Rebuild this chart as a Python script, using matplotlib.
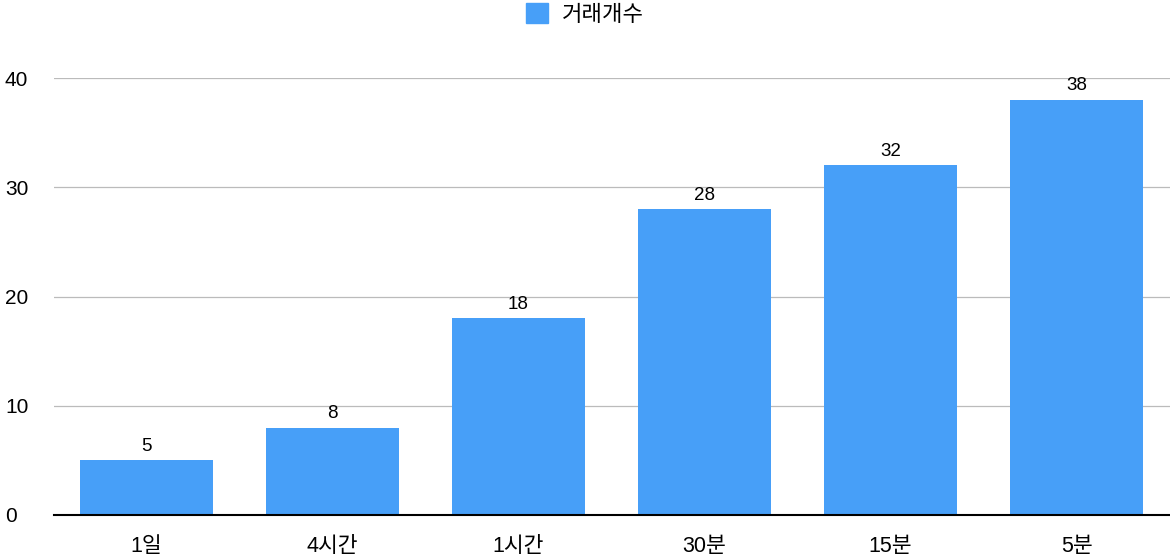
import matplotlib
matplotlib.use("Agg")
import matplotlib.pyplot as plt
from matplotlib.patches import Patch

plt.rcParams['font.family'] = ['Liberation Sans', 'Noto Sans CJK KR']

categories = ['1일', '4시간', '1시간', '30분', '15분', '5분']
values = [5, 8, 18, 28, 32, 38]
series_name = '거래개수'
yticks = [0, 10, 20, 30, 40]

color = '#479FF8'

fig = plt.figure(figsize=(11.7, 5.58), dpi=100)
W, H = 1170, 558
left, right, top, bottom = 53.5, 1169.5, 78, 515
ax = fig.add_axes([left / W, 1 - bottom / H, (right - left) / W, (bottom - top) / H])

x = list(range(len(categories)))
ax.bar(x, values, width=0.715, color=color, zorder=3)
ax.set_xlim(-0.5, len(categories) - 0.5)
ax.set_ylim(0, 40)
ax.set_yticks(yticks)
ax.set_xticks(x)
ax.set_xticklabels(categories, fontsize=15.5)
ax.tick_params(axis='y', labelsize=15, length=0, pad=35)
ax.tick_params(axis='x', length=0, pad=15)
for lbl in ax.get_yticklabels():
    lbl.set_horizontalalignment('left')

ax.grid(axis='y', color='#BBBBBB', linewidth=0.9, zorder=0)
ax.set_axisbelow(True)
for s in ['top', 'right', 'left']:
    ax.spines[s].set_visible(False)
ax.spines['bottom'].set_color('black')
ax.spines['bottom'].set_linewidth(1.5)
ax.spines['bottom'].set_zorder(4)

for xi, v in zip(x, values):
    ax.annotate(str(v), (xi, v), xytext=(0, 4), textcoords='offset points',
                ha='center', va='bottom', fontsize=13.5)

fig.legend(handles=[Patch(color=color, label=series_name)], loc='upper center',
           bbox_to_anchor=(0.5, 1.03), frameon=False, fontsize=16,
           handlelength=1.0, handleheight=1.0, handletextpad=0.6)

fig.savefig('out.png', dpi=100)
